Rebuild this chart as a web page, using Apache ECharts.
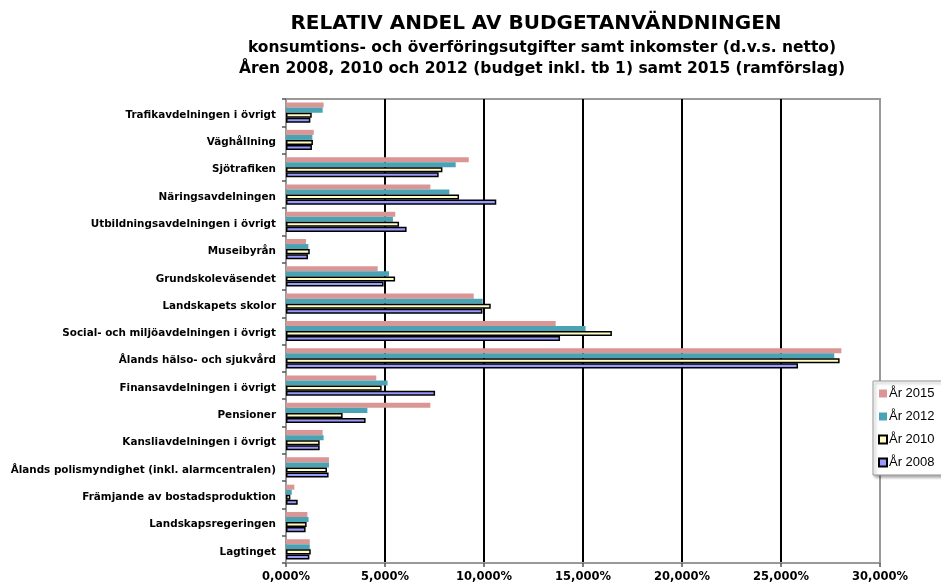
<!DOCTYPE html>
<html>
<head>
<meta charset="utf-8">
<script src="https://cdn.jsdelivr.net/npm/echarts@6/dist/echarts.min.js"></script>
<style>
  html, body { margin: 0; padding: 0; background: #fff; }
  #chart { width: 941px; height: 587px; }
</style>
</head>
<body>
<div id="chart"></div>
<script>
// kategorier, uppifrån och ned
const categories = [
  'Trafikavdelningen i övrigt',
  'Väghållning',
  'Sjötrafiken',
  'Näringsavdelningen',
  'Utbildningsavdelningen i övrigt',
  'Museibyrån',
  'Grundskoleväsendet',
  'Landskapets skolor',
  'Social- och miljöavdelningen i övrigt',
  'Ålands hälso- och sjukvård',
  'Finansavdelningen i övrigt',
  'Pensioner',
  'Kansliavdelningen i övrigt',
  'Ålands polismyndighet (inkl. alarmcentralen)',
  'Främjande av bostadsproduktion',
  'Landskapsregeringen',
  'Lagtinget'
];

// andel i procent
const ar2015 = [1.90, 1.40, 9.23, 7.29, 5.52, 1.01, 4.63, 9.48, 13.62, 28.05, 4.56, 7.29, 1.85, 2.17, 0.42, 1.08, 1.20];
const ar2012 = [1.85, 1.33, 8.57, 8.25, 5.40, 1.13, 5.20, 9.93, 15.13, 27.69, 5.13, 4.11, 1.90, 2.17, 0.29, 1.14, 1.20];
const ar2010 = [1.30, 1.36, 7.90, 8.74, 5.71, 1.20, 5.51, 10.34, 16.46, 27.96, 4.83, 2.86, 1.70, 2.07, 0.22, 1.04, 1.25];
const ar2008 = [1.23, 1.31, 7.71, 10.62, 6.09, 1.11, 4.93, 9.92, 13.84, 25.86, 7.53, 4.02, 1.70, 2.15, 0.59, 0.99, 1.18];

const xTicks = [0, 5, 10, 15, 20, 25, 30];

const BOLD = '"DejaVu Sans", sans-serif';
const PLAIN = '"Liberation Sans", Arial, sans-serif';

const chart = echarts.init(document.getElementById('chart'));

function serie(name, data, color, bordered) {
  return {
    name: name,
    type: 'bar',
    data: data,
    barGap: '0%',
    barCategoryGap: '26%',
    itemStyle: bordered
      ? { color: color, borderColor: '#000', borderWidth: 1.5 }
      : { color: color, borderWidth: 0 }
  };
}

chart.setOption({
  animation: false,
  textStyle: { fontFamily: PLAIN },
  title: [
    {
      text: 'RELATIV ANDEL AV BUDGETANVÄNDNINGEN',
      left: 531, top: 9, textAlign: 'center',
      textStyle: { fontSize: 20, fontWeight: 'bold', color: '#000', fontFamily: BOLD }
    },
    {
      text: 'konsumtions- och överföringsutgifter samt inkomster (d.v.s. netto)',
      left: 537, top: 35, textAlign: 'center',
      textStyle: { fontSize: 15.5, fontWeight: 'bold', color: '#000', fontFamily: BOLD }
    },
    {
      text: 'Åren 2008, 2010 och 2012 (budget inkl. tb 1) samt 2015 (ramförslag)',
      left: 537, top: 56, textAlign: 'center',
      textStyle: { fontSize: 15.5, fontWeight: 'bold', color: '#000', fontFamily: BOLD }
    }
  ],
  legend: {
    orient: 'vertical',
    left: 873, top: 381,
    padding: [6, 8, 6, 5],
    itemGap: 10,
    itemWidth: 8, itemHeight: 8,
    icon: 'rect',
    backgroundColor: '#fff',
    borderColor: '#999',
    borderWidth: 1,
    borderRadius: 0,
    shadowColor: 'rgba(0,0,0,0.35)',
    shadowBlur: 3,
    shadowOffsetX: 2,
    shadowOffsetY: 2,
    textStyle: { fontSize: 13, color: '#000', padding: [0, 0, 0, -3], fontFamily: PLAIN },
    data: ['År 2015', 'År 2012', 'År 2010', 'År 2008']
  },
  grid: {
    left: 286, right: 61, top: 99, bottom: 24,
    show: true, borderColor: '#999', borderWidth: 2
  },
  xAxis: {
    type: 'value',
    min: xTicks[0], max: xTicks[xTicks.length - 1], interval: 5,
    axisLine: { show: true, lineStyle: { color: '#999', width: 2 } },
    axisTick: { show: true, length: 4, lineStyle: { color: '#555', width: 1.5 } },
    axisLabel: {
      fontSize: 11.5, fontWeight: 'bold', color: '#000', margin: 8, fontFamily: BOLD,
      formatter: v => v.toFixed(3).replace('.', ',') + '%'
    },
    splitLine: {
      show: true, showMinLine: false, showMaxLine: false,
      lineStyle: { color: '#000', width: 2 }
    }
  },
  yAxis: {
    type: 'category',
    inverse: true,
    data: categories,
    axisLine: { show: true, lineStyle: { color: '#999', width: 2 } },
    axisTick: { show: true, length: 4, lineStyle: { color: '#555', width: 1.5 } },
    axisLabel: {
      fontSize: 10.4, fontWeight: 'bold', color: '#000', margin: 10, fontFamily: BOLD,
      verticalAlign: 'top', lineHeight: 5
    },
    splitLine: { show: false }
  },
  series: [
    serie('År 2015', ar2015, '#d99694', false),
    serie('År 2012', ar2012, '#4aa3b5', false),
    serie('År 2010', ar2010, '#ffffc4', true),
    serie('År 2008', ar2008, '#9999ff', true)
  ]
});
</script>
</body>
</html>
